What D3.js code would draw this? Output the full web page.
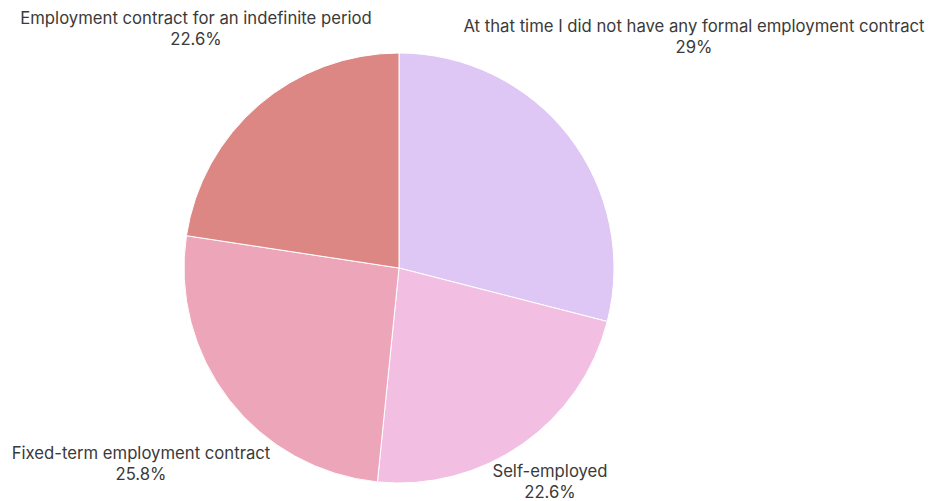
<!DOCTYPE html>
<html>
<head>
<meta charset="utf-8">
<script src="https://cdn.jsdelivr.net/npm/d3@7"></script>
<style>
  body { margin: 0; background: #fff; }
  text { font-family: "Inter", sans-serif; fill: #3a3a3a; }
</style>
</head>
<body>
<svg id="pie-chart" width="930" height="501"></svg>
<script>
const categories = [
    "At that time I did not have any formal employment contract",
    "Self-employed",
    "Fixed-term employment contract",
    "Employment contract for an indefinite period"
];
const shares = [29, 22.6, 25.8, 22.6];
const shareLabels = ["29%", "22.6%", "25.8%", "22.6%"];
const colors = ["#dec6f5", "#f2bee2", "#eda5ba", "#dd8784"];

// where each label block sits (center x, first baseline)
const labelPos = [[694, 32], [550, 477], [141, 459], [196, 24]];

const width = 930;
const height = 501;
const cx = 399, cy = 268, radius = 215;

const data = categories.map((c, i) => ({ category: c, value: shares[i], label: shareLabels[i] }));

const svg = d3.select('#pie-chart');

const color = d3.scaleOrdinal()
    .domain(categories)
    .range(colors);

const pie = d3.pie()
    .value(d => d.value)
    .sort(null);

const arc = d3.arc()
    .innerRadius(0)
    .outerRadius(radius);

const g = svg.append('g')
    .attr('transform', `translate(${cx}, ${cy})`);

g.selectAll('path')
    .data(pie(data))
    .enter()
    .append('path')
    .attr('d', arc)
    .attr('fill', d => color(d.data.category))
    .attr('stroke', '#fff')
    .attr('stroke-width', 1);

// Labels
const labels = svg.selectAll('.slice-label')
    .data(data)
    .enter()
    .append('text')
    .attr('class', 'slice-label')
    .attr('text-anchor', 'middle')
    .style('font-size', '16.7px');

labels.append('tspan')
    .attr('x', (d, i) => labelPos[i][0])
    .attr('y', (d, i) => labelPos[i][1])
    .text(d => d.category);

labels.append('tspan')
    .attr('x', (d, i) => labelPos[i][0])
    .attr('y', (d, i) => labelPos[i][1] + 21)
    .text(d => d.label);
</script>
</body>
</html>
